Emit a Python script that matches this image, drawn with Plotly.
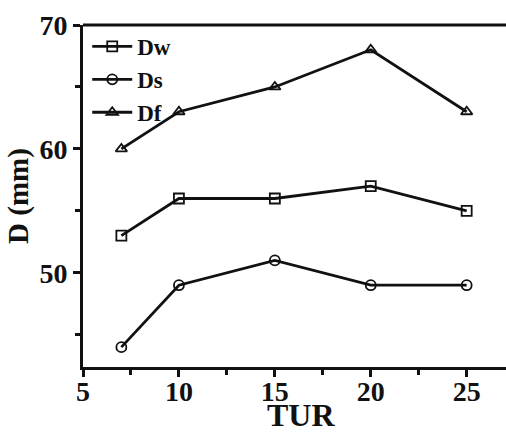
import plotly.graph_objects as go

tur = [7, 10, 15, 20, 25]
dw = [53, 56, 56, 57, 55]
ds = [44, 49, 51, 49, 49]
df = [60, 63, 65, 68, 63]

series = [("Dw", dw, "square-open"), ("Ds", ds, "circle-open"), ("Df", df, "triangle-up-open")]

ink = "#111111"
fig = go.Figure()
for name, vals, sym in series:
    fig.add_trace(go.Scatter(
        x=tur, y=vals, name=name, mode="lines+markers",
        line=dict(color=ink, width=2.8),
        marker=dict(symbol=sym, size=10, color=ink, line=dict(width=1.8, color=ink)),
    ))

font_family = "Liberation Serif, Times New Roman, serif"
fig.update_layout(
    width=506, height=434,
    margin=dict(l=83, r=0, t=25, b=67, autoexpand=False),
    paper_bgcolor="white", plot_bgcolor="white",
    font=dict(family=font_family, color=ink),
    showlegend=True,
    legend=dict(x=0.01, y=1.0, xanchor="left", yanchor="top",
                font=dict(size=23, family=font_family, color=ink, weight="bold"),
                bgcolor="rgba(0,0,0,0)", itemwidth=40, tracegroupgap=0),
    xaxis=dict(range=[5, 27.05], tickvals=[5, 10, 15, 20, 25], automargin=False,
               ticks="outside", ticklen=7, tickwidth=2.8, tickcolor=ink, ticklabelstandoff=-10,
               minor=dict(tickvals=[7.5, 12.5, 17.5, 22.5], ticks="outside", ticklen=5, tickwidth=2.8, tickcolor=ink),
               showline=True, linecolor=ink, linewidth=3, showgrid=False, zeroline=False,
               tickfont=dict(size=28, family=font_family, weight="bold", color=ink)),
    yaxis=dict(range=[42.4, 70], tickvals=[50, 60, 70], automargin=False,
               ticks="outside", ticklen=7, tickwidth=2.8, tickcolor=ink,
               minor=dict(tickvals=[45, 55, 65], ticks="outside", ticklen=5, tickwidth=2.8, tickcolor=ink),
               showline=True, linecolor=ink, linewidth=3, showgrid=False, zeroline=False,
               tickfont=dict(size=28, family=font_family, weight="bold", color=ink),
               title=dict(text="D (mm)", font=dict(size=29, family=font_family, weight="bold", color=ink), standoff=3)),
    annotations=[dict(text="TUR", x=16.35, xref="x", y=-0.196, yref="paper", xanchor="center", yanchor="bottom",
                      showarrow=False, borderpad=0,
                      font=dict(size=32, family=font_family, weight="bold", color=ink))],
)
fig.add_shape(type="line", xref="paper", yref="paper", x0=0, x1=1, y0=1, y1=1,
              line=dict(color=ink, width=3))

fig.write_html("out.html")
